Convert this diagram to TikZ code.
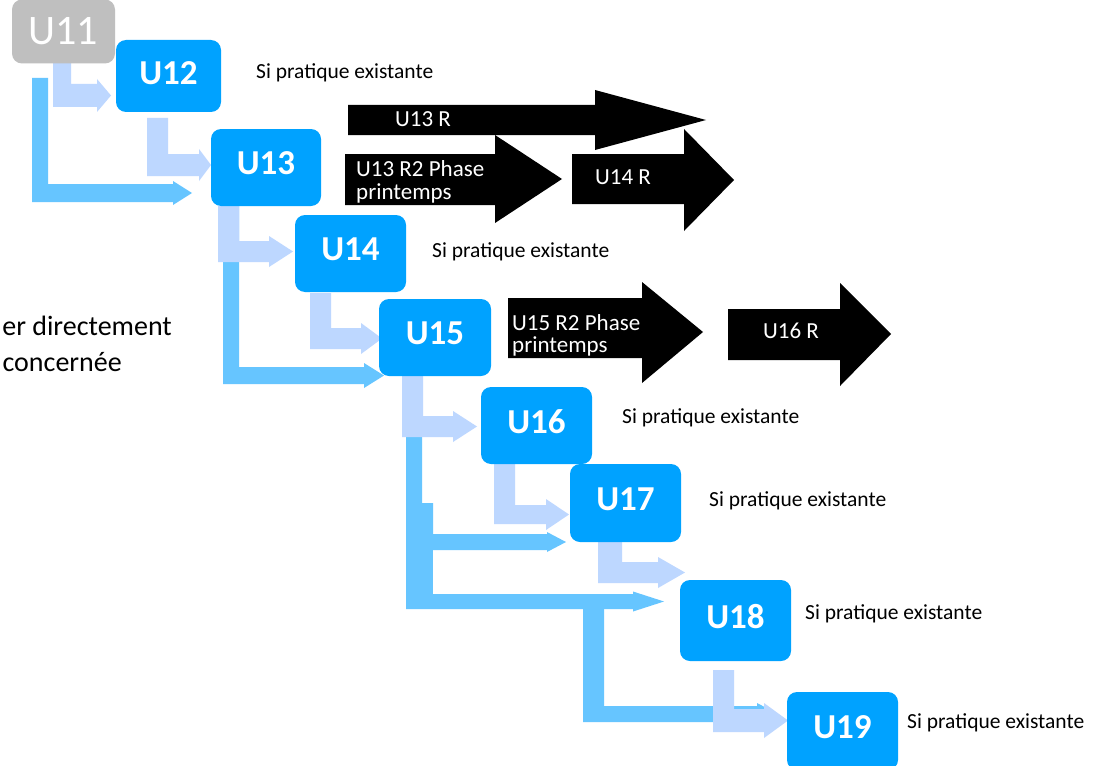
\documentclass[tikz,border=0pt]{standalone}
\usepackage{fontspec}
\setmainfont{Carlito}
\definecolor{boxblue}{RGB}{0,162,255}
\definecolor{pale}{RGB}{189,215,255}
\definecolor{bright}{RGB}{102,197,255}
\definecolor{grayb}{RGB}{191,191,191}
% L-shaped block arrow: colour, xleft, xright, ytop, shaft top, shaft bottom, head start, head overhang, tip x
\newcommand\Larrow[9]{%
  \fill[#1] (#2,#4) -- (#3,#4) -- (#3,#5) -- (#7,#5) -- (#7,{#5-#8}) -- (#9,{(#5+#6)/2})
    -- (#7,{#6+#8}) -- (#7,#6) -- (#2,#6) -- cycle;}
% straight black block arrow: x0, shaft top, shaft bottom, head start, head top, head bottom, tip x, tip y
\newcommand\Barrow[8]{%
  \fill[black] (#1,#2) -- (#4,#2) -- (#4,#5) -- (#7,#8) -- (#4,#6) -- (#4,#3) -- (#1,#3) -- cycle;}
\newcommand\fsz[1]{\fontsize{#1}{#1}\selectfont}
\tikzset{
  box/.style={fill=boxblue, rounded corners=10pt, inner sep=0pt, draw=none},
  graybox/.style={fill=grayb, rounded corners=10pt, inner sep=0pt, draw=none},
  blbl/.style={text=white, font=\fsz{35}\bfseries, inner sep=0pt},
  glbl/.style={text=white, font=\fsz{42}, inner sep=0pt},
  stext/.style={text=black, font=\fsz{21.5}, inner sep=0pt, anchor=base west},
  atext/.style={text=white, font=\fsz{23}, inner sep=0pt, anchor=base west},
  ltext/.style={text=black, font=\fsz{28}, inner sep=0pt, anchor=base east}
}
\begin{document}
\begin{tikzpicture}[x=1pt,y=-1pt]
\useasboundingbox (0,0) rectangle (1099,765);
\fill[white] (0,0) rectangle (1099,765);

% bright (long) arrows
\Larrow{bright}{32}{48}{78}{184}{202}{173}{3}{192}
\Larrow{bright}{223}{239}{206}{367}{384}{364}{4}{384}
\Larrow{bright}{406}{422}{376}{594}{609}{633}{2.5}{664}
\Larrow{bright}{417}{433}{503}{534}{550}{547}{2}{566}
\fill[bright] (417,503) rectangle (433,609);
\Larrow{bright}{583}{604}{600}{706}{722}{757}{3}{778}

% pale (next step) arrows
\Larrow{pale}{53}{71}{63}{84}{107}{97}{5}{111}
\Larrow{pale}{147}{168}{118}{154}{176}{199}{5}{211}
\Larrow{pale}{218}{239}{206}{241}{262}{269}{5}{293}
\Larrow{pale}{310}{331}{293}{328}{349}{361}{5}{382}
\Larrow{pale}{402}{423}{376}{416}{437}{453}{5}{477}
\Larrow{pale}{494}{515}{464}{505}{524}{546}{6}{569}
\Larrow{pale}{598}{622}{542}{562}{583}{658}{5}{685}
\Larrow{pale}{713}{734}{670}{709}{732}{764}{6}{788}

% boxes
\node[graybox, minimum width=103pt, minimum height=64pt] (u11) at (63.5,31.5) {};
\node[glbl] (l11) at (u11.center) {U11};
\node[box, minimum width=105pt, minimum height=72pt] (u12) at (168.5,76) {};
\node[blbl] (l12) at ([yshift=2.5pt]u12.center) {U12};
\node[box, minimum width=110pt, minimum height=77pt] (u13) at (266,167.5) {};
\node[blbl] (l13) at ([yshift=4pt]u13.center) {U13};
\node[box, minimum width=111pt, minimum height=77pt] (u14) at (350.5,253.5) {};
\node[blbl] (l14) at ([yshift=4pt]u14.center) {U14};
\node[box, minimum width=112pt, minimum height=77pt] (u15) at (435,337.5) {};
\node[blbl] (l15) at ([yshift=4pt]u15.center) {U15};
\node[box, minimum width=111pt, minimum height=77pt] (u16) at (536.5,425.5) {};
\node[blbl] (l16) at ([yshift=4pt]u16.center) {U16};
\node[box, minimum width=111pt, minimum height=78pt] (u17) at (625.5,503) {};
\node[blbl] (l17) at ([yshift=4pt]u17.center) {U17};
\node[box, minimum width=111pt, minimum height=81pt] (u18) at (735.5,620.5) {};
\node[blbl] (l18) at ([yshift=4pt]u18.center) {U18};
\node[box, minimum width=111pt, minimum height=78pt] (u19) at (842.5,731) {};
\node[blbl] (l19) at ([yshift=4pt]u19.center) {U19};

% black block arrows
\Barrow{348}{105}{135}{595}{90}{150}{706}{120}
\Barrow{345}{154}{205}{495}{135}{223}{562}{179}
\Barrow{572}{154}{204}{684}{129}{231}{734}{180}
\Barrow{508}{298}{358}{642}{282}{383}{703}{332}
\Barrow{728}{309}{360}{840}{283}{386}{891}{334}

\node[atext] (r13) at (395,127) {U13 R};
\begin{scope}
  \clip (345,154) rectangle (495,205);
  \node[atext] (r13a) at (356,176) {U13 R2 Phase};
  \node[atext] (r13b) at (356,199) {printemps};
\end{scope}
\node[atext] (r14) at (595,184) {U14 R};
\begin{scope}
  \clip (508,298) rectangle (642,358);
  \node[atext] (r15a) at (512,330) {U15 R2 Phase};
  \node[atext] (r15b) at (512,352) {printemps};
\end{scope}
\node[atext] (r16) at (763,338) {U16 R};

% side texts
\node[stext] (s12) at (256,79) {Si pratique existante};
\node[stext] (s14) at (432,257) {Si pratique existante};
\node[stext] (s16) at (622,423) {Si pratique existante};
\node[stext] (s17) at (709,506) {Si pratique existante};
\node[stext] (s18) at (805,619) {Si pratique existante};
\node[stext] (s19) at (907,728) {Si pratique existante};

\node[ltext] (le1) at (172,335) {er directement};
\node[ltext] (le2) at (122,371) {concernée};
\end{tikzpicture}
\end{document}
